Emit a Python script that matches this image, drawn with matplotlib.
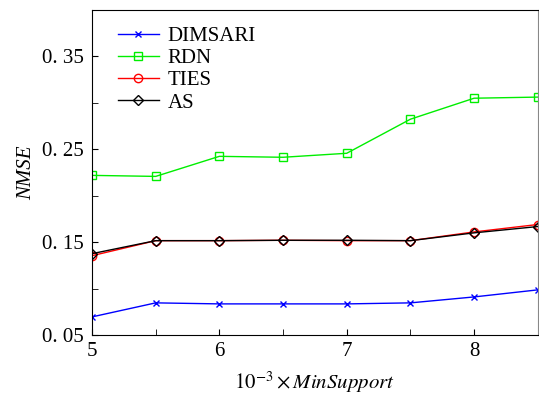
import numpy as np
import matplotlib
matplotlib.use("Agg")
import matplotlib.pyplot as plt
from matplotlib.ticker import FixedLocator, FixedFormatter

plt.rcParams['font.family'] = ['Liberation Serif', 'DejaVu Serif']
plt.rcParams['mathtext.fontset'] = 'stix'

x = [5, 5.5, 6, 6.5, 7, 7.5, 8, 8.5]
dimsari = [0.0695, 0.0846, 0.0835, 0.0835, 0.0835, 0.0846, 0.091, 0.0986]
rdn = [0.2219, 0.2208, 0.2424, 0.2414, 0.2457, 0.2824, 0.305, 0.3062]
ties = [0.1354, 0.1516, 0.1516, 0.152, 0.1516, 0.1516, 0.161, 0.169]
as_vals = [0.1376, 0.1516, 0.1516, 0.152, 0.152, 0.1516, 0.160, 0.1668]

yticks = [0.05, 0.15, 0.25, 0.35]
ytick_labels = ['0. 05', '0. 15', '0. 25', '0. 35']
xticks = [5, 6, 7, 8]

fig = plt.figure(figsize=(5.39, 4.0), dpi=100)
ax = fig.add_axes([0.1707, 0.1625, 0.827, 0.8125])

ax.plot(x, dimsari, color='#0000ff', marker='x', ms=4.5, mew=1, lw=1, label='DIMSARI')
ax.plot(x, rdn, color='#00ee00', marker='s', ms=5.5, mfc='none', mew=1, lw=1, label='RDN')
ax.plot(x, ties, color='#ff0000', marker='o', ms=6, mfc='none', mew=1, lw=1, label='TIES')
ax.plot(x, as_vals, color='black', marker='D', ms=5, mfc='none', mew=1, lw=1, label='AS')

ax.set_xlim(5, 8.5)
ax.set_ylim(0.05, 0.40)
ax.xaxis.set_major_locator(FixedLocator(xticks))
ax.xaxis.set_minor_locator(FixedLocator([5.5, 6.5, 7.5]))
ax.yaxis.set_major_locator(FixedLocator(yticks))
ax.yaxis.set_major_formatter(FixedFormatter(ytick_labels))
ax.yaxis.set_minor_locator(FixedLocator([0.1, 0.2, 0.3]))
ax.tick_params(which='both', direction='in', labelsize=15, length=4, top=False, right=False)
ax.tick_params(axis='x', pad=5)
ax.tick_params(axis='y', pad=6)

ax.set_ylabel('NMSE', fontsize=15, style='italic', labelpad=4)
ax.set_xlabel(r'$10^{-3}\times\mathit{MinSupport}$', fontsize=15, labelpad=6)
ax.spines['right'].set_color('#888888')

ax.legend(loc='upper left', frameon=False, fontsize=15, handlelength=2.0,
          handletextpad=0.4, borderaxespad=0.4, labelspacing=0.12,
          bbox_to_anchor=(0.02, 1.0))

fig.savefig('out.png', dpi=100)
